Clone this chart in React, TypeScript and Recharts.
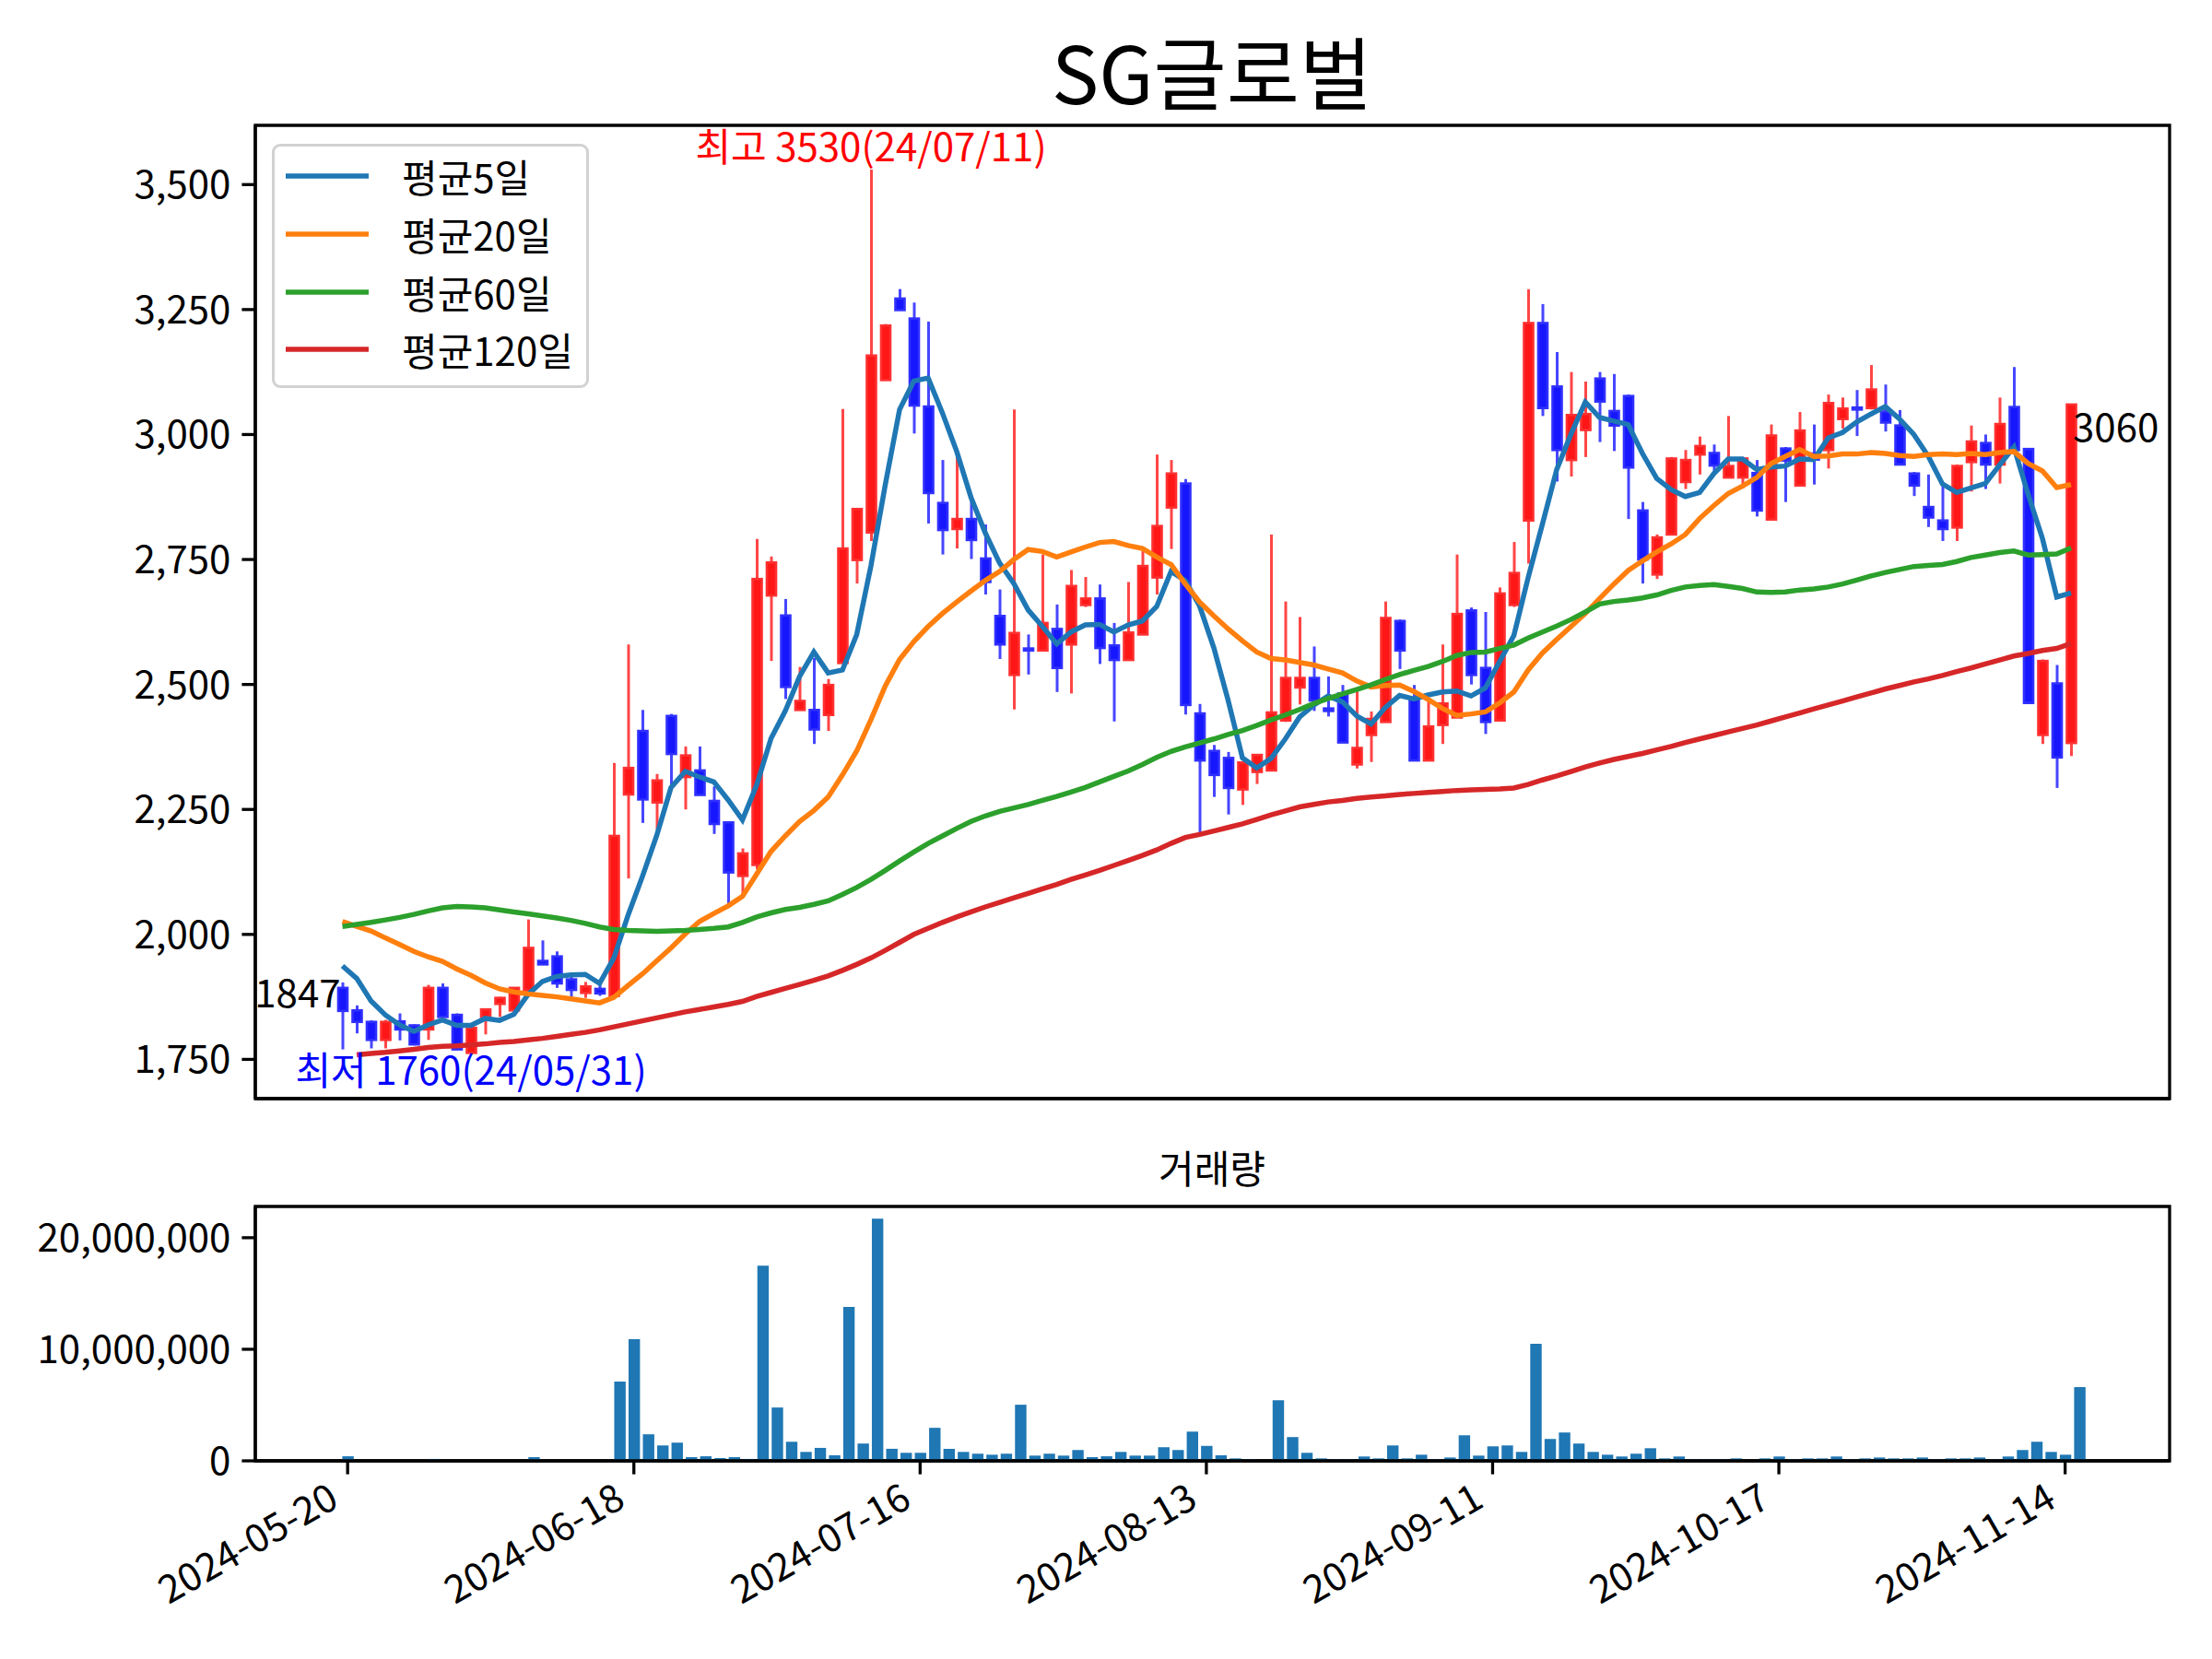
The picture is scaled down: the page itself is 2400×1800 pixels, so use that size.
import React from 'react';
import { ComposedChart, Bar, Line, XAxis, YAxis, ReferenceDot, ReferenceArea } from 'recharts';

const FONT = "'Noto Sans CJK KR', 'Noto Sans', sans-serif";

const tickIdx = [0, 20, 40, 60, 80, 100, 120];
const tickLabels = ['2024-05-20', '2024-06-18', '2024-07-16', '2024-08-13', '2024-09-11', '2024-10-17', '2024-11-14'];

const opens = [
  1893, 1848, 1825, 1789, 1826, 1818, 1810, 1893, 1839, 1763, 1835, 1861, 1848, 1888, 1947, 1956, 1910, 1883, 1891, 1877,
  2280, 2407, 2264, 2437, 2315, 2328, 2267, 2224, 2117, 2139, 2678, 2638, 2449, 2449, 2439, 2543, 2749, 2804, 3109, 3272,
  3232, 3056, 2863, 2811, 2831, 2752, 2637, 2519, 2572, 2568, 2611, 2580, 2659, 2672, 2578, 2549, 2600, 2714, 2854, 2902,
  2442, 2367, 2353, 2290, 2325, 2328, 2428, 2494, 2513, 2452, 2482, 2340, 2399, 2425, 2627, 2471, 2348, 2419, 2434, 2648,
  2533, 2428, 2659, 2828, 3223, 3096, 2949, 3009, 3112, 3047, 3077, 2848, 2720, 2800, 2905, 2960, 2963, 2914, 2914, 2923,
  2830, 2972, 2898, 2962, 2969, 3031, 3054, 3053, 3046, 3018, 2922, 2855, 2828, 2814, 2945, 2983, 2940, 3055, 2971, 2399,
  2502, 2383,
];
const highs = [
  1904, 1858, 1828, 1829, 1842, 1820, 1899, 1902, 1842, 1816, 1850, 1875, 1893, 2030, 1988, 1966, 1924, 1905, 1899, 2343,
  2580, 2449, 2321, 2441, 2376, 2376, 2296, 2226, 2172, 2791, 2756, 2671, 2535, 2553, 2511, 3051, 2851, 3530, 3221, 3291,
  3264, 3226, 2949, 2960, 2868, 2820, 2690, 3050, 2600, 2760, 2660, 2729, 2715, 2700, 2623, 2705, 2770, 2960, 2949, 2911,
  2461, 2379, 2365, 2346, 2361, 2800, 2666, 2635, 2576, 2516, 2499, 2487, 2446, 2666, 2630, 2499, 2471, 2580, 2760, 2654,
  2645, 2694, 2785, 3291, 3261, 3165, 3125, 3106, 3125, 3121, 3080, 2865, 2800, 2955, 2969, 2996, 2980, 3037, 2955, 2949,
  3020, 2975, 3045, 3020, 3080, 3074, 3089, 3139, 3100, 3049, 2925, 2920, 2898, 2940, 3018, 3000, 3074, 3135, 2972, 2550,
  2539, 3061,
];
const lows = [
  1770, 1802, 1772, 1772, 1788, 1778, 1789, 1834, 1769, 1760, 1800, 1835, 1847, 1887, 1940, 1893, 1875, 1873, 1877, 1876,
  2112, 2223, 2210, 2296, 2250, 2278, 2201, 2059, 2075, 2130, 2547, 2471, 2448, 2381, 2407, 2542, 2702, 2787, 3108, 3248,
  3002, 2822, 2760, 2772, 2751, 2680, 2551, 2450, 2520, 2567, 2485, 2482, 2655, 2541, 2426, 2548, 2599, 2680, 2771, 2440,
  2204, 2275, 2240, 2259, 2301, 2327, 2425, 2460, 2447, 2436, 2383, 2332, 2345, 2424, 2531, 2347, 2347, 2381, 2433, 2500,
  2401, 2427, 2655, 2742, 3037, 2906, 2916, 2955, 2985, 2967, 2831, 2702, 2711, 2799, 2891, 2920, 2923, 2913, 2892, 2836,
  2829, 2865, 2897, 2900, 2932, 3012, 2997, 3050, 3006, 2939, 2877, 2815, 2787, 2787, 2886, 2891, 2902, 2968, 2462, 2381,
  2293, 2357,
];
const closes = [
  1847, 1825, 1789, 1825, 1810, 1780, 1893, 1835, 1770, 1813, 1850, 1873, 1893, 1973, 1940, 1902, 1889, 1896, 1882, 2197,
  2333, 2270, 2308, 2361, 2358, 2279, 2221, 2124, 2162, 2711, 2744, 2495, 2467, 2410, 2499, 2772, 2851, 3158, 3218, 3249,
  3058, 2883, 2809, 2831, 2789, 2705, 2580, 2603, 2568, 2623, 2533, 2697, 2672, 2573, 2549, 2604, 2737, 2817, 2922, 2459,
  2348, 2319, 2293, 2344, 2359, 2444, 2513, 2513, 2468, 2447, 2384, 2373, 2431, 2633, 2568, 2348, 2416, 2462, 2641, 2519,
  2425, 2682, 2723, 3223, 3053, 2969, 3039, 3041, 3066, 3018, 2934, 2750, 2794, 2952, 2949, 2977, 2938, 2937, 2952, 2848,
  2998, 2948, 3008, 2950, 3063, 3052, 3050, 3090, 3024, 2940, 2898, 2834, 2811, 2937, 2986, 2940, 3021, 2969, 2463, 2547,
  2354, 3060,
];

const ma5 = [
  1937, 1912, 1867, 1839, 1819, 1806, 1819, 1829, 1818, 1818, 1832, 1828, 1840, 1880, 1906, 1916, 1919, 1920, 1902, 1953,
  2039, 2116, 2198, 2294, 2326, 2315, 2305, 2269, 2229, 2299, 2392, 2447, 2516, 2565, 2523, 2529, 2600, 2738, 2900, 3050,
  3107, 3113, 3043, 2966, 2874, 2803, 2743, 2702, 2649, 2616, 2581, 2605, 2619, 2620, 2605, 2619, 2627, 2656, 2726, 2708,
  2657, 2573, 2468, 2353, 2333, 2352, 2391, 2435, 2459, 2477, 2465, 2437, 2421, 2454, 2478, 2471, 2479, 2485, 2487, 2477,
  2493, 2546, 2598, 2714, 2821, 2930, 3001, 3065, 3034, 3027, 3020, 2962, 2912, 2890, 2876, 2884, 2922, 2951, 2951, 2930,
  2935, 2937, 2951, 2950, 2993, 3004, 3025, 3041, 3056, 3031, 3000, 2957, 2901, 2884, 2893, 2902, 2939, 2975, 2880, 2792,
  2675, 2683,
];
const ma20 = [
  2026, 2016, 2007, 1993, 1980, 1966, 1955, 1946, 1931, 1918, 1903, 1891, 1885, 1881, 1878, 1875, 1871, 1867, 1863, 1874,
  1898, 1921, 1947, 1973, 2001, 2026, 2042, 2057, 2076, 2121, 2166, 2197, 2226, 2248, 2275, 2319, 2367, 2430, 2497, 2550,
  2586, 2616, 2642, 2665, 2687, 2708, 2726, 2750, 2770, 2766, 2755, 2765, 2775, 2784, 2786, 2778, 2772, 2755, 2740, 2701,
  2665, 2637, 2611, 2587, 2565, 2552, 2549, 2544, 2539, 2531, 2523, 2507, 2495, 2498, 2499, 2486, 2470, 2452, 2438, 2441,
  2445, 2463, 2485, 2529, 2563, 2590, 2616, 2642, 2672, 2701, 2728, 2747, 2765, 2781, 2800, 2832, 2858, 2882, 2897, 2914,
  2942, 2956, 2970, 2956, 2957, 2961, 2961, 2964, 2962, 2958, 2956, 2960, 2961, 2960, 2962, 2960, 2964, 2966, 2942, 2927,
  2894, 2900,
];
const ma60 = [
  2016, 2020, 2024, 2029, 2034, 2040, 2047, 2053, 2056, 2055, 2053, 2049, 2045, 2041, 2037, 2033, 2028, 2022, 2015, 2010,
  2008, 2007, 2006, 2007, 2008, 2010, 2012, 2015, 2024, 2035, 2043, 2050, 2054, 2060, 2067, 2080, 2094, 2110, 2128, 2147,
  2165, 2182, 2197, 2212, 2226, 2237, 2246, 2253, 2260, 2268, 2276, 2285, 2294, 2305, 2316, 2327, 2340, 2354, 2366, 2375,
  2383, 2391, 2400, 2408, 2418, 2429, 2439, 2450, 2462, 2472, 2481, 2490, 2499, 2510, 2520, 2528, 2536, 2546, 2558, 2564,
  2565, 2572, 2579, 2593, 2605, 2617, 2630, 2645, 2661, 2666, 2669, 2673, 2679, 2688, 2695, 2698, 2700, 2696, 2692, 2685,
  2684, 2685, 2689, 2691, 2695, 2701, 2709, 2717, 2724, 2730, 2736, 2738, 2740, 2746, 2754, 2759, 2764, 2767, 2759, 2760,
  2761, 2773,
];
const ma120 = [
  null, 1759, 1762, 1764, 1767, 1770, 1774, 1776, 1777, 1779, 1781, 1784, 1786, 1789, 1792, 1796, 1800, 1804, 1809, 1815,
  1821, 1827, 1833, 1839, 1845, 1850, 1855, 1860, 1866, 1876, 1884, 1892, 1900, 1908, 1917, 1928, 1940, 1953, 1968, 1984,
  2000, 2012, 2024, 2035, 2045, 2055, 2064, 2073, 2082, 2091, 2100, 2110, 2119, 2128, 2138, 2148, 2158, 2169, 2182, 2194,
  2200, 2207, 2214, 2221, 2230, 2239, 2247, 2255, 2260, 2265, 2268, 2272, 2275, 2277, 2280, 2282, 2284, 2286, 2288, 2289,
  2290, 2291, 2293, 2300, 2309, 2317, 2326, 2335, 2343, 2350, 2356, 2362, 2369, 2376, 2384, 2391, 2398, 2405, 2412, 2419,
  2427, 2435, 2443, 2451, 2459, 2467, 2475, 2483, 2491, 2498, 2505, 2511, 2518, 2526, 2533, 2541, 2549, 2557, 2562, 2568,
  2572, 2582,
];
const volumes = [
  410000, 40000, 30000, 40000, 30000, 50000, 170000, 40000, 50000, 60000, 40000, 30000, 50000, 330000, 60000, 40000, 50000, 40000, 60000, 7100000,
  10900000, 2380000, 1380000, 1630000, 330000, 410000, 250000, 330000, 170000, 17500000, 4780000, 1710000, 800000, 1160000, 500000, 13800000, 1550000, 21700000, 1080000, 720000,
  720000, 2960000, 1080000, 800000, 640000, 550000, 640000, 5030000, 470000, 640000, 470000, 970000, 330000, 410000, 800000, 470000, 470000, 1220000, 970000, 2620000,
  1340000, 500000, 220000, 140000, 60000, 5440000, 2130000, 720000, 220000, 140000, 140000, 390000, 220000, 1380000, 220000, 550000, 140000, 300000, 2290000, 470000,
  1300000, 1380000, 800000, 10500000, 1960000, 2540000, 1550000, 800000, 550000, 390000, 640000, 1130000, 220000, 390000, 140000, 140000, 140000, 220000, 30000, 220000,
  390000, 140000, 220000, 220000, 390000, 140000, 220000, 300000, 220000, 220000, 300000, 140000, 220000, 220000, 300000, 140000, 390000, 970000, 1710000, 800000,
  550000, 6600000,
];

const rows = closes.map((c, i) => ({
  idx: i,
  open: opens[i],
  high: highs[i],
  low: lows[i],
  close: c,
  ma5: ma5[i],
  ma20: ma20[i],
  ma60: ma60[i],
  ma120: ma120[i],
  vol: volumes[i],
}));

const UP = { body: '#ff1616', edge: '#ff3030', wick: '#ff4646' };
const DOWN = { body: '#1616ff', edge: '#3030ff', wick: '#4646ff' };

const Candle = (props: any) => {
  const { x, y, width, height, payload } = props;
  if (!payload || height == null) return null;
  const { open, close, high, low } = payload;
  const c = close >= open ? UP : DOWN;
  const top = Math.min(y, y + height);
  const h = Math.abs(height);
  const ppu = h / (high - low);
  const cx = x + width / 2;
  const bTop = top + (high - Math.max(open, close)) * ppu;
  const bBot = top + (high - Math.min(open, close)) * ppu;
  return (
    <g>
      <line x1={cx} x2={cx} y1={top} y2={top + h} stroke={c.wick} strokeWidth={3} />
      <rect x={x + 1.2} y={bTop} width={width - 2.4} height={Math.max(bBot - bTop, 1)} fill={c.body} stroke={c.edge} strokeWidth={2.6} />
    </g>
  );
};

// rotated date labels, right end of the text sits at the tick like autofmt_xdate
const DateTick = (props: any) => {
  const { x, y, payload } = props;
  const k = tickIdx.indexOf(payload.value);
  const ax = x - 27;
  const ay = y - 12;
  return (
    <text x={ax} y={ay} transform={`rotate(-30, ${ax}, ${ay})`} textAnchor="end" dominantBaseline="hanging"
      fontSize={42} fontFamily={FONT} fill="#000">
      {k >= 0 ? tickLabels[k] : ''}
    </text>
  );
};

const axisStroke = { stroke: '#000', strokeWidth: 3.3 };
const tickText = { fontSize: 42, fontFamily: FONT, fill: '#000' };

const legendItems = [
  { name: '평균5일', color: '#1f77b4' },
  { name: '평균20일', color: '#ff7f0e' },
  { name: '평균60일', color: '#2ca02c' },
  { name: '평균120일', color: '#d62728' },
];

const PRICE_DOMAIN = [1671.5, 3618.5];
const VOL_DOMAIN = [0, 22800000];

export default function App() {
  return (
    <div style={{ position: 'relative', width: 2400, height: 1800, background: '#fff', fontFamily: FONT, overflow: 'hidden' }}>
      <style>{'body{margin:0}'}</style>
      <div style={{ position: 'absolute', left: 715, top: 28, width: 1200, textAlign: 'center', fontSize: 86, lineHeight: '96px', color: '#000' }}>
        SG글로벌
      </div>

      <div style={{ position: 'absolute', left: 0, top: 0 }}>
        <ComposedChart width={2400} height={1230} data={rows} margin={{ top: 136, right: 46, bottom: 18, left: 0 }}>
          <XAxis dataKey="idx" type="number" domain={[-6.1, 127.9]} ticks={tickIdx} interval={0} tick={false}
            axisLine={axisStroke} tickLine={axisStroke} tickSize={14.6} height={20} />
          <YAxis type="number" domain={PRICE_DOMAIN} ticks={[1750, 2000, 2250, 2500, 2750, 3000, 3250, 3500]} interval={0}
            width={277} axisLine={axisStroke} tickLine={axisStroke} tickSize={14.6} tickMargin={12} tick={tickText}
            tickFormatter={(v: number) => v.toLocaleString('en-US')} />
          <Bar dataKey={(d: any) => [d.low, d.high]} shape={(p: any) => <Candle {...p} />} barSize={12.4} isAnimationActive={false} />
          <Line type="linear" dataKey="ma5" stroke="#1f77b4" strokeWidth={5.5} dot={false} isAnimationActive={false} />
          <Line type="linear" dataKey="ma20" stroke="#ff7f0e" strokeWidth={5.5} dot={false} isAnimationActive={false} />
          <Line type="linear" dataKey="ma60" stroke="#2ca02c" strokeWidth={5.5} dot={false} isAnimationActive={false} />
          <Line type="linear" dataKey="ma120" stroke="#d62728" strokeWidth={5.5} dot={false} isAnimationActive={false} />
          <ReferenceArea x1={-6.1} x2={127.9} y1={PRICE_DOMAIN[0]} y2={PRICE_DOMAIN[1]} fill="none" stroke="#000" strokeWidth={3.3} ifOverflow="visible" />
          <ReferenceDot x={37} y={3530} ifOverflow="visible" shape={(p: any) => (
            <text x={p.cx} y={p.cy - 9} textAnchor="middle" fontSize={42} fontFamily={FONT} fill="#ff0000">최고 3530(24/07/11)</text>
          )} />
          <ReferenceDot x={9} y={1760} ifOverflow="visible" shape={(p: any) => (
            <text x={p.cx} y={p.cy + 33} textAnchor="middle" fontSize={42} fontFamily={FONT} fill="#0000ff">최저 1760(24/05/31)</text>
          )} />
          <ReferenceDot x={0} y={1847} ifOverflow="visible" shape={(p: any) => (
            <text x={p.cx - 2} y={p.cy - 4} textAnchor="end" fontSize={42} fontFamily={FONT} fill="#000">1847</text>
          )} />
          <ReferenceDot x={121} y={3060} ifOverflow="visible" shape={(p: any) => (
            <text x={p.cx + 2} y={p.cy + 40} textAnchor="start" fontSize={42} fontFamily={FONT} fill="#000">3060</text>
          )} />
        </ComposedChart>
      </div>

      <div style={{ position: 'absolute', left: 295, top: 156, width: 344, height: 265, boxSizing: 'border-box',
        border: '3px solid #d2d2d2', borderRadius: 9, background: 'rgba(255,255,255,0.85)' }}>
        {legendItems.map((it, k) => (
          <div key={it.name} style={{ position: 'absolute', left: 12, top: 32 + k * 62.8 - 31, height: 62, display: 'flex', alignItems: 'center' }}>
            <svg width={92} height={10} style={{ display: 'block' }}>
              <line x1={0} x2={90} y1={5} y2={5} stroke={it.color} strokeWidth={5.5} />
            </svg>
            <span style={{ marginLeft: 34, fontSize: 42, lineHeight: '62px', color: '#000', whiteSpace: 'nowrap' }}>{it.name}</span>
          </div>
        ))}
      </div>

      <div style={{ position: 'absolute', left: 1015, top: 1240, width: 600, textAlign: 'center', fontSize: 42, lineHeight: '52px', color: '#000' }}>
        거래량
      </div>

      <div style={{ position: 'absolute', left: 0, top: 1230 }}>
        <ComposedChart width={2400} height={570} data={rows} margin={{ top: 79, right: 46, bottom: 0, left: 0 }}>
          <XAxis dataKey="idx" type="number" domain={[-6.45, 127.3]} ticks={tickIdx} interval={0} tick={<DateTick />}
            axisLine={axisStroke} tickLine={axisStroke} tickSize={14.6} tickMargin={12} height={215} />
          <YAxis type="number" domain={VOL_DOMAIN} ticks={[0, 10000000, 20000000]} interval={0}
            width={277} axisLine={axisStroke} tickLine={axisStroke} tickSize={14.6} tickMargin={12} tick={tickText}
            tickFormatter={(v: number) => v.toLocaleString('en-US')} />
          <Bar dataKey="vol" fill="#1f77b4" barSize={12.4} isAnimationActive={false} />
          <ReferenceArea x1={-6.45} x2={127.3} y1={VOL_DOMAIN[0]} y2={VOL_DOMAIN[1]} fill="none" stroke="#000" strokeWidth={3.3} ifOverflow="visible" />
        </ComposedChart>
      </div>
    </div>
  );
}
